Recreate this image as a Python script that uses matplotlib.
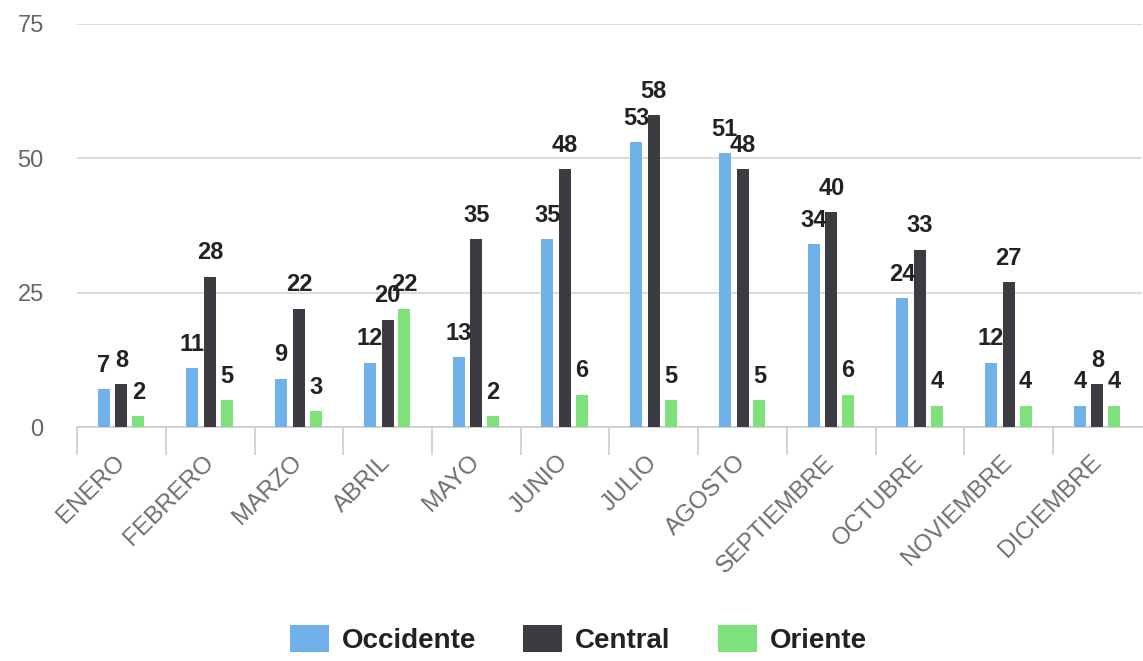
import matplotlib.pyplot as plt
import numpy as np
from matplotlib.patches import Patch

meses = ['ENERO', 'FEBRERO', 'MARZO', 'ABRIL', 'MAYO', 'JUNIO', 'JULIO',
         'AGOSTO', 'SEPTIEMBRE', 'OCTUBRE', 'NOVIEMBRE', 'DICIEMBRE']
occidente = [7, 11, 9, 12, 13, 35, 53, 51, 34, 24, 12, 4]
central = [8, 28, 22, 20, 35, 48, 58, 48, 40, 33, 27, 8]
oriente = [2, 5, 3, 22, 2, 6, 5, 5, 6, 4, 4, 4]

series = ['Occidente', 'Central', 'Oriente']
colores = ['#70b1ea', '#3b3b41', '#7ee17b']

plt.rcParams['font.family'] = ['Liberation Sans', 'DejaVu Sans']

fig = plt.figure(figsize=(11.43, 6.61), dpi=100)
ax = fig.add_axes([0.0674, 0.354, 0.9316, 0.6097])

x = np.arange(len(meses))
width = 0.135
offsets = [-0.2, 0.0, 0.19]
for vals, off, col in zip([occidente, central, oriente], offsets, colores):
    bars = ax.bar(x + off, vals, width, color=col, zorder=3)
    for b, v in zip(bars, vals):
        ax.text(b.get_x() + b.get_width() / 2, v + 2.3, str(v),
                ha='center', va='bottom', fontsize=17, fontweight='bold',
                color='#222222', clip_on=False, zorder=4)

ax.set_xlim(-0.5, len(meses) - 0.5)
ax.set_ylim(0, 75)
ax.set_yticks([0, 25, 50, 75])
ax.yaxis.grid(True, color='#d4d4d4', linewidth=1.2, zorder=0)
ax.tick_params(axis='y', length=0, pad=24, labelsize=17, labelcolor='#666666')

ax.set_xticks(x)
ax.set_xticklabels(meses, rotation=45, ha='right', va='center',
                   rotation_mode='anchor', fontsize=17.5, color='#6e6e6e')
ax.tick_params(axis='x', length=0, pad=23)
ax.set_xticks(np.arange(len(meses)) - 0.5, minor=True)
ax.tick_params(axis='x', which='minor', length=20, color='#cccccc', width=1.2)

for s in ['top', 'right', 'left']:
    ax.spines[s].set_visible(False)
ax.spines['bottom'].set_color('#cccccc')
ax.spines['bottom'].set_linewidth(1.2)

handles = [Patch(facecolor=c, label=s) for s, c in zip(series, colores)]
fig.legend(handles=handles, loc='center', bbox_to_anchor=(0.506, 0.032),
           ncol=3, frameon=False, handlelength=1.4, handleheight=1.1,
           columnspacing=1.7, handletextpad=0.47,
           prop={'size': 20, 'weight': 'bold'}, labelcolor='#222222')

fig.savefig('out.png', dpi=100)
